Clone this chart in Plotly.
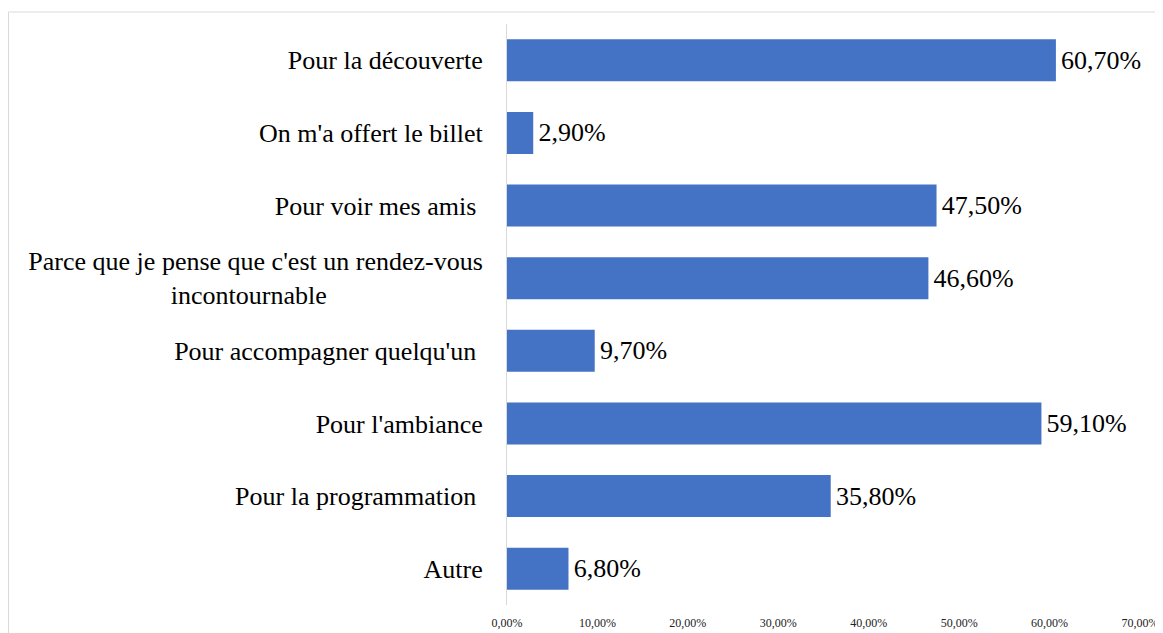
import plotly.graph_objects as go

NB = "\u00a0"
categories = [
    "Pour la découverte",
    "On m'a offert le billet",
    "Pour voir mes amis" + NB,
    "Parce que je pense que c'est un rendez-vous<br>incontournable" + NB * 24,
    "Pour accompagner quelqu'un" + NB,
    "Pour l'ambiance",
    "Pour la programmation" + NB,
    "Autre",
]
values = [60.7, 2.9, 47.5, 46.6, 9.7, 59.1, 35.8, 6.8]
tick_values = [0, 10, 20, 30, 40, 50, 60, 70]
tick_labels = ["0,00%", "10,00%", "20,00%", "30,00%", "40,00%", "50,00%", "60,00%", "70,00%"]

FONT = "Liberation Serif, Times New Roman, serif"

# page body has an 8px margin: target coordinates are shifted by 8
OFF = 8
W, H = 1163 - OFF, 633 - OFF
L, R, T, B = 507 - OFF, 23, 24 - OFF, 28

fig = go.Figure(
    go.Bar(
        x=values,
        y=categories,
        orientation="h",
        marker=dict(color="#4472C4", line=dict(width=0)),
        texttemplate="\u200a%{x:.2f}%",
        textposition="outside",
        textfont=dict(family=FONT, size=26, color="#000000"),
        cliponaxis=False,
    )
)

pw = W - L - R
ph = H - T - B
x_left = (8.5 - 507) / pw
y_top = (605 - 12) / ph
fig.add_shape(type="line", xref="paper", yref="paper",
              x0=x_left, x1=(1170 - 507) / pw, y0=y_top, y1=y_top,
              line=dict(color="#d9d9d9", width=1), layer="below")
fig.add_shape(type="line", xref="paper", yref="paper",
              x0=x_left, x1=x_left, y0=(605 - 640) / ph, y1=y_top,
              line=dict(color="#d9d9d9", width=1), layer="below")

fig.update_layout(
    width=W, height=H,
    margin=dict(l=L, r=R, t=T, b=B),
    paper_bgcolor="white", plot_bgcolor="white",
    separators=", ",
    bargap=0.42,
    showlegend=False,
    font=dict(family=FONT, color="#000000"),
    xaxis=dict(
        range=[0, 70], tickvals=tick_values, ticktext=tick_labels,
        showgrid=False, zeroline=False, showline=False,
        tickfont=dict(family=FONT, size=12, color="#222222"),
        ticks="", ticklabelstandoff=9, ticklabeloverflow="allow",
        automargin=False,
    ),
    yaxis=dict(
        autorange="reversed", showgrid=False, zeroline=False,
        showline=True, linecolor="#d9d9d9", linewidth=1,
        tickfont=dict(family=FONT, size=26, color="#000000"),
        ticks="", ticklabelstandoff=18, automargin=False,
    ),
)

fig.write_html("out.html")
